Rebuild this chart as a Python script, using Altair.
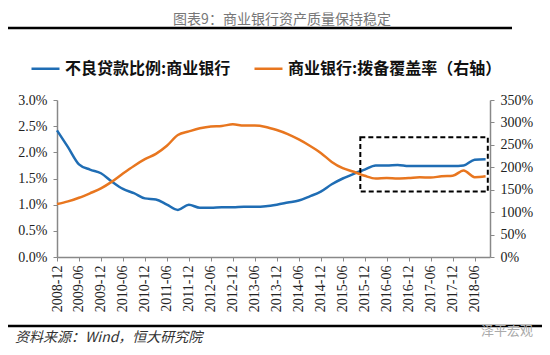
import altair as alt
import pandas as pd

quarters = ["2008-12", "2009-03", "2009-06", "2009-09", "2009-12", "2010-03", "2010-06", "2010-09",
            "2010-12", "2011-03", "2011-06", "2011-09", "2011-12", "2012-03", "2012-06", "2012-09",
            "2012-12", "2013-03", "2013-06", "2013-09", "2013-12", "2014-03", "2014-06", "2014-09",
            "2014-12", "2015-03", "2015-06", "2015-09", "2015-12", "2016-03", "2016-06", "2016-09",
            "2016-12", "2017-03", "2017-06", "2017-09", "2017-12", "2018-03", "2018-06", "2018-09"]

# 不良贷款比例 (%), left axis
npl = [2.42, 2.10, 1.77, 1.67, 1.60, 1.44, 1.30, 1.22, 1.12, 1.10, 1.00, 0.90, 1.00, 0.94, 0.94, 0.95,
       0.95, 0.96, 0.96, 0.97, 1.00, 1.04, 1.08, 1.16, 1.25, 1.39, 1.50, 1.59, 1.67, 1.75, 1.75, 1.76,
       1.74, 1.74, 1.74, 1.74, 1.74, 1.75, 1.86, 1.87]

# 拨备覆盖率 (%), right axis
coverage = [118, 124, 132, 142, 153, 168, 186, 203, 218, 230, 248, 272, 280, 287, 291, 292,
            296, 293, 293, 290, 283, 274, 262, 248, 232, 212, 198, 190, 181, 175, 176, 175,
            176, 178, 177, 180, 181, 193, 178, 180]

series_names = ["不良贷款比例:商业银行", "商业银行:拨备覆盖率（右轴）"]
series_colors = ["#1f6db4", "#e8761f"]

left_ticks = [0, 0.005, 0.01, 0.015, 0.02, 0.025, 0.03]
right_ticks = [0, 0.5, 1.0, 1.5, 2.0, 2.5, 3.0, 3.5]

# highlighted box (x in quarter index, y on left axis)
box_x = [27.6]
box_x2 = [39.2]
box_y = [0.0229]
box_y2 = [0.0125]

title_text = "图表9：商业银行资产质量保持稳定"
source_text = "资料来源：Wind，恒大研究院"
mark_text = "泽平宏观"

idx = list(range(len(quarters)))
df_blue = pd.DataFrame({"idx": idx, "q": quarters, "value": [v / 100 for v in npl],
                        "series": series_names[0]})
df_orange = pd.DataFrame({"idx": idx, "q": quarters, "value": [v / 100 for v in coverage],
                          "series": series_names[1]})
df_box = pd.DataFrame({"x": box_x, "x2": box_x2, "y": box_y, "y2": box_y2})

label_expr = "[" + ",".join("'%s'" % q for q in quarters) + "][datum.value]"
x_scale = alt.Scale(domain=[0, 39.4], nice=False, zero=False)
x_axis = alt.Axis(values=list(range(0, 40, 2)), labelExpr=label_expr, labelAngle=270,
                  title=None, grid=False, labelPadding=4)
x_enc = alt.X("idx:Q", scale=x_scale, axis=x_axis)

color_enc = alt.Color("series:N",
                      scale=alt.Scale(domain=series_names, range=series_colors),
                      legend=alt.Legend(title=None, orient="none", legendX=-27, legendY=-47,
                                        direction="horizontal", symbolType="stroke",
                                        symbolSize=784, symbolStrokeWidth=2.5,
                                        labelFont="Noto Sans CJK SC", labelFontSize=16,
                                        labelFontWeight="bold", labelColor="#111",
                                        columnPadding=18, labelOffset=4, padding=0,
                                        labelLimit=400))

blue = alt.Chart(df_blue).mark_line(interpolate="monotone", strokeWidth=2.5).encode(
    x=x_enc,
    y=alt.Y("value:Q", scale=alt.Scale(domain=[0, 0.03], nice=False),
            axis=alt.Axis(values=left_ticks, format=".1%", title=None, orient="left")),
    color=color_enc,
)

box = alt.Chart(df_box).mark_rect(filled=False, stroke="black", strokeWidth=2,
                                  strokeDash=[5, 3]).encode(
    x=alt.X("x:Q", scale=x_scale, axis=x_axis),
    x2="x2:Q",
    y=alt.Y("y:Q", scale=alt.Scale(domain=[0, 0.03], nice=False), axis=None),
    y2="y2:Q",
)

orange = alt.Chart(df_orange).mark_line(interpolate="monotone", strokeWidth=2.5).encode(
    x=x_enc,
    y=alt.Y("value:Q", scale=alt.Scale(domain=[0, 3.5], nice=False),
            axis=alt.Axis(values=right_ticks, format=".0%", title=None, orient="right")),
    color=color_enc,
)

one = pd.DataFrame({"a": [0]})
top_rule = alt.Chart(one).mark_rule(color="black", strokeWidth=2.5).encode(
    x=alt.value(-49), x2=alt.value(455), y=alt.value(-72))
bottom_rule = alt.Chart(one).mark_rule(color="black", strokeWidth=2.5).encode(
    x=alt.value(-49), x2=alt.value(485), y=alt.value(226))

title = alt.Chart(pd.DataFrame({"t": [title_text]})).mark_text(
    font="Noto Sans CJK SC", fontSize=14, color="#777", align="center", baseline="middle"
).encode(text="t:N", x=alt.value(225), y=alt.value(-80))

source = alt.Chart(pd.DataFrame({"t": [source_text]})).mark_text(
    font="Noto Sans CJK SC", fontSize=14, color="#333", fontStyle="italic",
    align="left", baseline="middle"
).encode(text="t:N", x=alt.value(-42), y=alt.value(238))

wm = alt.Chart(pd.DataFrame({"t": [mark_text]})).mark_text(
    font="Noto Sans CJK SC", fontSize=13, color="#aaa", align="center", baseline="middle"
).encode(text="t:N", x=alt.value(450), y=alt.value(231))

chart = alt.layer(blue, box, orange, top_rule, bottom_rule, title, source, wm).resolve_scale(
    y="independent"
).properties(
    width=433, height=157,
    autosize=alt.AutoSizeParams(type="none"),
    padding={"left": 49, "top": 92, "right": 52, "bottom": 90},
).configure_view(stroke=None).configure_axis(
    domainColor="#888", tickColor="#888", tickSize=4, labelFont="Liberation Serif",
    labelFontSize=14, labelColor="#222", labelPadding=6, grid=False, domainWidth=1.5,
)

chart.save("out.html", embed_options={"renderer": "svg", "actions": False})
